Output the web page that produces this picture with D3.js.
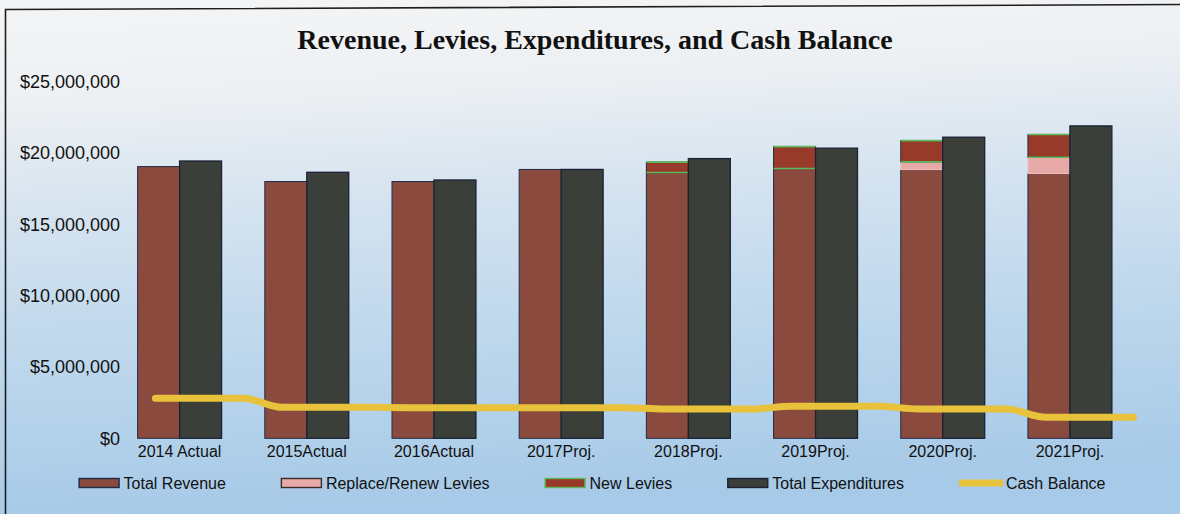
<!DOCTYPE html>
<html>
<head>
<meta charset="utf-8">
<script src="https://cdn.jsdelivr.net/npm/d3@7"></script>
<style>
  html, body { margin: 0; padding: 0; overflow: hidden; background: #fff; }
  svg { display: block; }
</style>
</head>
<body>
<svg id="chart" width="1180" height="514"></svg>
<script>
// Yearly figures, in dollars
const categories = ["2014 Actual", "2015Actual", "2016Actual", "2017Proj.", "2018Proj.", "2019Proj.", "2020Proj.", "2021Proj."];
const totalRevenue       = [19050000, 18000000, 18000000, 18850000, 18630000, 18910000, 18840000, 18560000];
const replaceRenewLevies = [0, 0, 0, 0, 0, 0, 540000, 1140000];
const newLevies          = [0, 0, 0, 0, 730000, 1540000, 1490000, 1600000];
const totalExpenditures  = [19440000, 18650000, 18110000, 18850000, 19610000, 20340000, 21110000, 21900000];
const cashBalance        = [2800000, 2170000, 2150000, 2150000, 2050000, 2250000, 2050000, 1470000];
const yTicks = [0, 5000000, 10000000, 15000000, 20000000, 25000000];
const seriesNames = ["Total Revenue", "Replace/Renew Levies", "New Levies", "Total Expenditures", "Cash Balance"];
const titleText = "Revenue, Levies, Expenditures, and Cash Balance";

const W = 1180, H = 514;
const svg = d3.select("#chart");
const sans = "'Liberation Sans', Arial, sans-serif";

// background wash and frame
const defs = svg.append("defs");
const bg = defs.append("linearGradient").attr("id", "bgGrad")
  .attr("x1", 0).attr("y1", 0).attr("x2", 0.12).attr("y2", 1);
[[0, "#f4f5f6"], [0.2, "#edf0f3"], [0.42, "#d5e3f0"], [0.7, "#bdd7ec"], [1, "#a7cae8"]]
  .forEach(([o, c]) => bg.append("stop").attr("offset", o).attr("stop-color", c));
svg.append("rect").attr("width", W).attr("height", H).attr("fill", "url(#bgGrad)");
svg.append("path").attr("d", "M5.5,514 L5.5,9.5 L1180,4.5")
  .attr("fill", "none").attr("stroke", "#1e1e1e").attr("stroke-width", 1.6);

// scales
const x = d3.scaleBand().domain(categories).range([116, 1133.5])
  .paddingInner(0.34).paddingOuter(0.17);
const xs = d3.scaleBand().domain(["rev", "exp"]).range([0, x.bandwidth()]);
const y = d3.scaleLinear().domain([0, 25000000]).range([438.3, 81.7]);

// title
svg.append("text").attr("x", 595).attr("y", 49).attr("text-anchor", "middle")
  .attr("font-family", "'Liberation Serif', 'Times New Roman', serif")
  .attr("font-weight", "bold").attr("font-size", 28).attr("fill", "#111")
  .text(titleText);

// y axis labels
const yAxis = svg.append("g").attr("transform", "translate(120,0)")
  .call(d3.axisLeft(y).tickValues(yTicks).tickFormat(d3.format("$,")).tickSize(0).tickPadding(0));
yAxis.select(".domain").remove();
yAxis.selectAll("text").attr("font-family", sans).attr("font-size", 18).attr("fill", "#111");

// x axis labels
const xAxis = svg.append("g").attr("transform", "translate(0,446)")
  .call(d3.axisBottom(x).tickSize(0).tickPadding(0));
xAxis.select(".domain").remove();
xAxis.selectAll("text").attr("font-family", sans).attr("font-size", 16).attr("fill", "#111");

// stacked revenue bars
const rows = categories.map((c, i) => ({
  cat: c, revenue: totalRevenue[i], replace: replaceRenewLevies[i], levies: newLevies[i]
}));
const stack = d3.stack().keys(["revenue", "replace", "levies"])(rows);
const fills = { revenue: "#8b4a3e", replace: "#e8aaa8", levies: "#983a2a" };
const strokes = { revenue: "#1f2c48", replace: "#f0c4c0", levies: "#2a2a3a" };
stack.forEach(layer => {
  const g = svg.append("g");
  const segs = layer.filter(d => d[1] - d[0] > 0);
  g.selectAll("rect")
    .data(segs)
    .join("rect")
    .attr("x", d => x(d.data.cat) + xs("rev"))
    .attr("width", xs.bandwidth())
    .attr("y", d => y(d[1]))
    .attr("height", d => y(d[0]) - y(d[1]))
    .attr("fill", fills[layer.key])
    .attr("stroke", strokes[layer.key])
    .attr("stroke-width", 1);
  if (layer.key === "levies") {
    // green edges at the top and bottom of each new-levy segment
    g.selectAll("path.edge")
      .data(segs)
      .join("path")
      .attr("class", "edge")
      .attr("d", d => {
        const x0 = x(d.data.cat) + xs("rev"), x1 = x0 + xs.bandwidth();
        return `M${x0},${y(d[1])}H${x1}M${x0},${y(d[0])}H${x1}`;
      })
      .attr("stroke", "#5cb85a").attr("stroke-width", 1.6).attr("fill", "none");
  }
});

// expenditure bars
svg.append("g").selectAll("rect")
  .data(categories.map((c, i) => ({ cat: c, v: totalExpenditures[i] })))
  .join("rect")
  .attr("x", d => x(d.cat) + xs("exp"))
  .attr("width", xs.bandwidth())
  .attr("y", d => y(d.v))
  .attr("height", d => y(0) - y(d.v))
  .attr("fill", "#3b3f3a")
  .attr("stroke", "#1b2236")
  .attr("stroke-width", 1.3);

// cash balance: held level across each year, easing into the next
const step = x.step();
const cashPts = [];
categories.forEach((c, i) => {
  const x0 = x(c) - x.paddingInner() * step / 2;
  cashPts.push([x0 + 0.31 * step, cashBalance[i]]);
  cashPts.push([x0 + step, cashBalance[i]]);
});
svg.append("path")
  .datum(cashPts)
  .attr("d", d3.line().x(d => d[0]).y(d => y(d[1])).curve(d3.curveMonotoneX))
  .attr("fill", "none").attr("stroke", "#e7c23a").attr("stroke-width", 7)
  .attr("stroke-linecap", "round").attr("stroke-linejoin", "round");

// legend
const legend = svg.append("g").attr("transform", "translate(0,483)");
let lx = 78.6;
const swW = 41, swH = 9, gap = 55;
seriesNames.forEach((name, i) => {
  const g = legend.append("g").attr("transform", `translate(${lx},0)`);
  if (i === 4) {
    g.append("line").attr("x1", 0).attr("x2", 44).attr("y1", 0).attr("y2", 0)
      .attr("stroke", "#e7c23a").attr("stroke-width", 7);
  } else {
    const sf = ["#8b4a3e", "#e8aaa8", "#983a2a", "#3b3f3a"][i];
    const ss = ["#1f2c48", "#3a2a2a", "#5cb85a", "#1b2236"][i];
    g.append("rect").attr("x", 0.5).attr("y", -swH / 2).attr("width", swW - 1).attr("height", swH)
      .attr("fill", sf).attr("stroke", ss).attr("stroke-width", 1.4);
  }
  const tx = (i === 4 ? 47 : swW + 4);
  const t = g.append("text").attr("x", tx).attr("y", 0).attr("dy", "0.35em")
    .attr("font-family", sans).attr("font-size", 16).attr("fill", "#111").text(name);
  lx += tx + t.node().getComputedTextLength() + gap;
});
</script>
</body>
</html>
